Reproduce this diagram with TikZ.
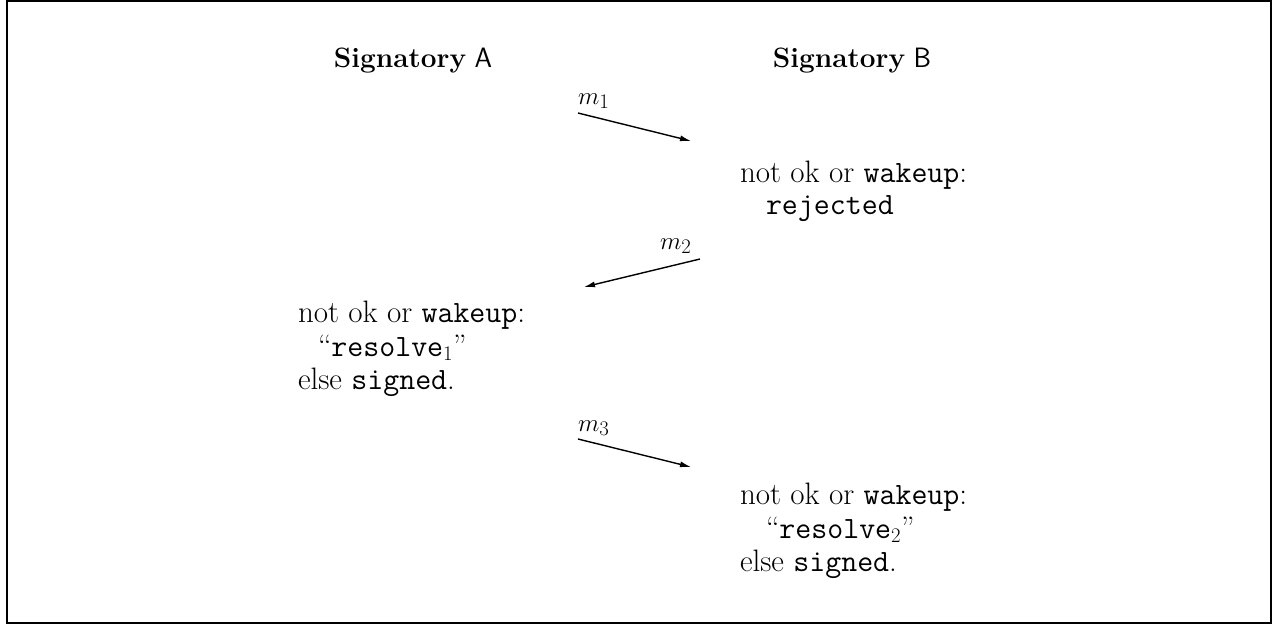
\documentclass[tikz,border=0pt]{standalone}
\usetikzlibrary{arrows.meta}
\begin{document}
\begin{tikzpicture}[x=1pt,y=-1pt,
  every node/.style={inner sep=0pt,outer sep=0pt,font=\fontsize{28}{33}\selectfont},
  line/.style={anchor=base west,font=\fontsize{31}{33}\selectfont},
  head/.style={anchor=base},
  msg/.style={line width=1.4pt,-{Latex[length=11pt,width=6pt]}}]
  \useasboundingbox (0,0) rectangle (1277,627);
  \draw[line width=2pt] (6.5,0.5) rectangle (1270.5,622.5);

  % party headings
  \node[head] (sigA) at (413,67) {\textbf{Signatory} \textsf{A}};
  \node[head] (sigB) at (852,67) {\textbf{Signatory} \textsf{B}};

  % first message A -> B
  \coordinate (m1s) at (578,113);
  \coordinate (m1e) at (691,141);
  \draw[msg] (m1s) -- (m1e);
  \node[anchor=base west] (m1) at (578,104) {$m_1$};

  % B's reaction
  \node[line] (b1) at (740,182) {not ok or \texttt{wakeup}:};
  \node[line] (b2) at (766,214) {\texttt{rejected}};

  % second message B -> A
  \coordinate (m2s) at (700,259);
  \coordinate (m2e) at (584,287);
  \draw[msg] (m2s) -- (m2e);
  \node[anchor=base west] (m2) at (660,249) {$m_2$};

  % A's reaction
  \node[line] (a1) at (298,322) {not ok or \texttt{wakeup}:};
  \node[line] (a2) at (318,356) {``\texttt{resolve}$_1$''};
  \node[line] (a3) at (298,389) {else \texttt{signed}.};

  % third message A -> B
  \coordinate (m3s) at (578,439);
  \coordinate (m3e) at (691,467);
  \draw[msg] (m3s) -- (m3e);
  \node[anchor=base west] (m3) at (578,431) {$m_3$};

  % B's final reaction
  \node[line] (c1) at (740,504) {not ok or \texttt{wakeup}:};
  \node[line] (c2) at (766,538) {``\texttt{resolve}$_2$''};
  \node[line] (c3) at (740,571) {else \texttt{signed}.};
\end{tikzpicture}
\end{document}
